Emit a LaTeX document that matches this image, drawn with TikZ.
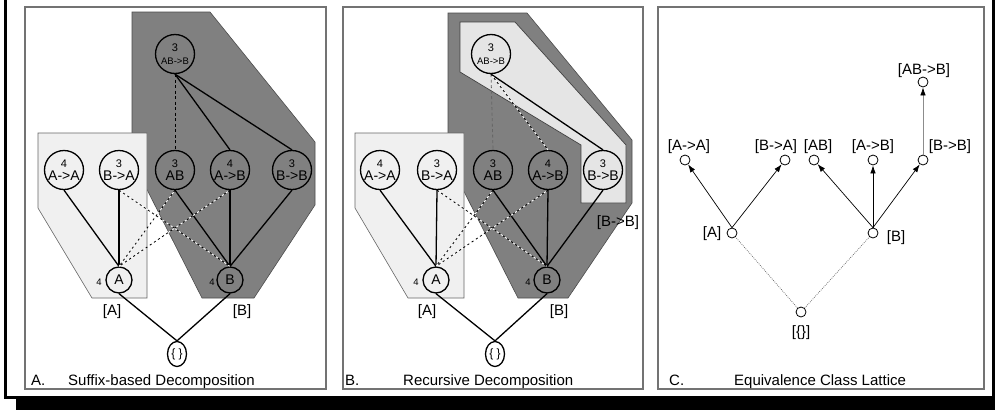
\documentclass[tikz,border=0pt]{standalone}
\usepackage{fontspec}
\setmainfont{Liberation Sans}
\usetikzlibrary{arrows.meta, shapes.geometric}

\newcommand{\cntfont}{\fontsize{11}{10}\selectfont}

\begin{document}
\begin{tikzpicture}[
  x=1pt, y=-1pt,
  font=\fontsize{15}{16}\selectfont,
  panel/.style={draw=black!55, line width=1.4pt, fill=white},
  lightcls/.style={draw=black!60, fill=black!6, line width=0.6pt},
  darkcls/.style={draw=black!70, fill=black!50, line width=0.6pt},
  subcls/.style={draw=black!75, fill=black!10, line width=0.7pt},
  item/.style={circle, draw, line width=1.3pt, minimum size=39pt, inner sep=0pt, align=center, font=\fontsize{14}{12.5}\selectfont},
  cls/.style={circle, draw, line width=1.3pt, minimum size=26pt, inner sep=0pt, font=\fontsize{14}{14}\selectfont},
  root/.style={ellipse, draw, fill=white, line width=1.3pt, minimum width=19pt, minimum height=25pt, inner sep=0pt, font=\fontsize{12}{12}\selectfont},
  cnt/.style={inner sep=0pt, font=\fontsize{9.5}{10}\selectfont},
  ttl/.style={anchor=base west, inner sep=0pt, font=\fontsize{15}{16}\selectfont},
  edge/.style={line width=1.3pt},
  dsh/.style={line width=0.8pt, dash pattern=on 2.5pt off 2.5pt, postaction={draw=white, dash pattern=on 2.5pt off 2.5pt, dash phase=2.5pt}},
  dshk/.style={line width=0.8pt, dash pattern=on 3pt off 2.5pt},
  lat/.style={circle, draw, fill=white, line width=0.8pt, minimum size=10pt, inner sep=0pt},
  arr/.style={line width=0.7pt, -{Latex[length=8pt, width=5.5pt]}},
  arrg/.style={line width=0.7pt, draw=black!45, -{Latex[length=8pt, width=5.5pt, color=black]}},
  dot/.style={line width=0.7pt, draw=black!60, dash pattern=on 0.8pt off 1.2pt}
]
\useasboundingbox (0,0) rectangle (995,410);

% outer frame with shadow
\fill (4,0) rectangle (7,399);
\fill (992,0) rectangle (995,399);
\fill (4,396) rectangle (995,399);
\fill (16,399) rectangle (995,410);

% A. suffix-based decomposition
\draw[panel] (25,7) rectangle (326,389);
\filldraw[darkcls] (132,12) -- (210,12) -- (315,142) -- (315,205) -- (254,298) -- (202,298) -- (132,160) -- cycle;
\filldraw[lightcls] (38,133) -- (147,133) -- (147,298) -- (92,298) -- (38,208) -- cycle;

\node[item] (aABtoB) at (175,54) {{\fontsize{11}{11}\selectfont 3}\\{\fontsize{9.5}{9.5}\selectfont AB->B}};
\node[item] (aAtoA) at (64,170) {{\cntfont 4}\\A->A};
\node[item] (aBtoA) at (119,170) {{\cntfont 3}\\B->A};
\node[item] (aAB) at (175,170) {{\cntfont 3}\\AB};
\node[item] (aAtoB) at (230,170) {{\cntfont 4}\\A->B};
\node[item] (aBtoB) at (292,170) {{\cntfont 3}\\B->B};
\node[cls] (aA) at (119,280) {A};
\node[cls] (aB) at (230,280) {B};
\node[cnt] (aAn) at (99,282) {4};
\node[cnt] (aBn) at (212,282) {4};
\node (aAlab) at (112,312) {[A]};
\node (aBlab) at (242,312) {[B]};
\node[root] (aE) at (177,354) {\{ \}};
\node[ttl] (aTn) at (31,385) {A.};
\node[ttl] (aTt) at (68,385) {Suffix-based Decomposition};

\draw[edge] (aABtoB.south) -- (aAtoB.north);
\draw[edge] (aABtoB.south) -- (aBtoB.north);
\draw[dshk] (aABtoB.south) -- (aAB.north);
\draw[edge] (aAtoA.south) -- (aA.north);
\draw[edge] (aBtoA.south) -- (aA.north);
\draw[edge] (aAB.south) -- (aB.north);
\draw[edge] (aAtoB.south) -- (aB.north);
\draw[edge] (aBtoB.south) -- (aB.north);
\draw[dsh] (aBtoA.south) -- (aB.north);
\draw[dsh] (aAB.south) -- (aA.north);
\draw[dsh] (aAtoB.south) -- (aA.north);
\draw[edge] (aA.south) -- (aE.north);
\draw[edge] (aB.south) -- (aE.north);

% B. recursive decomposition
\begin{scope}[xshift=317pt]
\draw[panel] (26,7) rectangle (326,389);
\filldraw[darkcls] (131,13) -- (210,13) -- (315,140) -- (315,203) -- (251,298) -- (201,298) -- (131,160) -- cycle;
\filldraw[subcls] (143,22) -- (198,22) -- (309,145) -- (309,203) -- (264,203) -- (264,145) -- (143,72) -- cycle;
\filldraw[lightcls] (38,133) -- (147,133) -- (147,298) -- (91,298) -- (38,208) -- cycle;

\node[item] (bABtoB) at (174,54) {{\fontsize{11}{11}\selectfont 3}\\{\fontsize{9.5}{9.5}\selectfont AB->B}};
\node[item] (bAtoA) at (63,170) {{\cntfont 4}\\A->A};
\node[item] (bBtoA) at (120,170) {{\cntfont 3}\\B->A};
\node[item] (bAB) at (176,170) {{\cntfont 3}\\AB};
\node[item] (bAtoB) at (231,170) {{\cntfont 4}\\A->B};
\node[item] (bBtoB) at (286,170) {{\cntfont 3}\\B->B};
\node[cls] (bA) at (119,280) {A};
\node[cls] (bB) at (230,280) {B};
\node[cnt] (bAn) at (99,282) {4};
\node[cnt] (bBn) at (211,282) {4};
\node (bAlab) at (110,312) {[A]};
\node (bBlab) at (242,312) {[B]};
\node (bBBlab) at (301,223) {[B->B]};
\node[root] (bE) at (178,354) {\{ \}};
\node[ttl] (bTn) at (28,385) {B.};
\node[ttl] (bTt) at (86,385) {Recursive Decomposition};

\draw[edge] (bABtoB.south) -- (bBtoB.north);
\draw[dshk, draw=black!60] (bABtoB.south) -- (bAB.north);
\draw[dsh] (bABtoB.south) -- (bAtoB.north);
\draw[edge] (bAtoA.south) -- (bA.north);
\draw[edge] (bBtoA.south) -- (bA.north);
\draw[edge] (bAB.south) -- (bB.north);
\draw[edge] (bAtoB.south) -- (bB.north);
\draw[edge] (bBtoB.south) -- (bB.north);
\draw[dsh] (bBtoA.south) -- (bB.north);
\draw[dsh] (bAB.south) -- (bA.north);
\draw[dsh] (bAtoB.south) -- (bA.north);
\draw[edge] (bA.south) -- (bE.north);
\draw[edge] (bB.south) -- (bE.north);
\end{scope}

% C. equivalence class lattice
\draw[panel] (658,7) rectangle (984,389);
\node[lat] (cAtoA) at (685,160) {};
\node[lat] (cBtoA) at (785,160) {};
\node[lat] (cAB) at (814,160) {};
\node[lat] (cAtoB) at (873,160) {};
\node[lat] (cBtoB) at (923,160) {};
\node[lat] (cABtoB) at (923,82) {};
\node[lat] (cA) at (732,233) {};
\node[lat] (cB) at (873,233) {};
\node[lat] (cE) at (801,312) {};
\node (cAtoAlab) at (689,147) {[A->A]};
\node (cBtoAlab) at (776,147) {[B->A]};
\node (cABlab) at (818,147) {[AB]};
\node (cAtoBlab) at (873,147) {[A->B]};
\node (cBtoBlab) at (950,147) {[B->B]};
\node (cABtoBlab) at (924,71) {[AB->B]};
\node (cAlab) at (712,234) {[A]};
\node (cBlab) at (896,238) {[B]};
\node (cElab) at (801,333) {[\{\}]};
\node[ttl] (cTn) at (669,385) {C.};
\node[ttl] (cTt) at (734,385) {Equivalence Class Lattice};

\draw[arr] (cA.north) -- (cAtoA);
\draw[arr] (cA.north) -- (cBtoA);
\draw[arr] (cB.north) -- (cAB);
\draw[arr] (cB.north) -- (cAtoB);
\draw[arr] (cB.north) -- (cBtoB);
\draw[arrg] (cBtoB) -- (cABtoB);
\draw[dot] (cE) -- (cA);
\draw[dot] (cE) -- (cB);
\end{tikzpicture}
\end{document}
